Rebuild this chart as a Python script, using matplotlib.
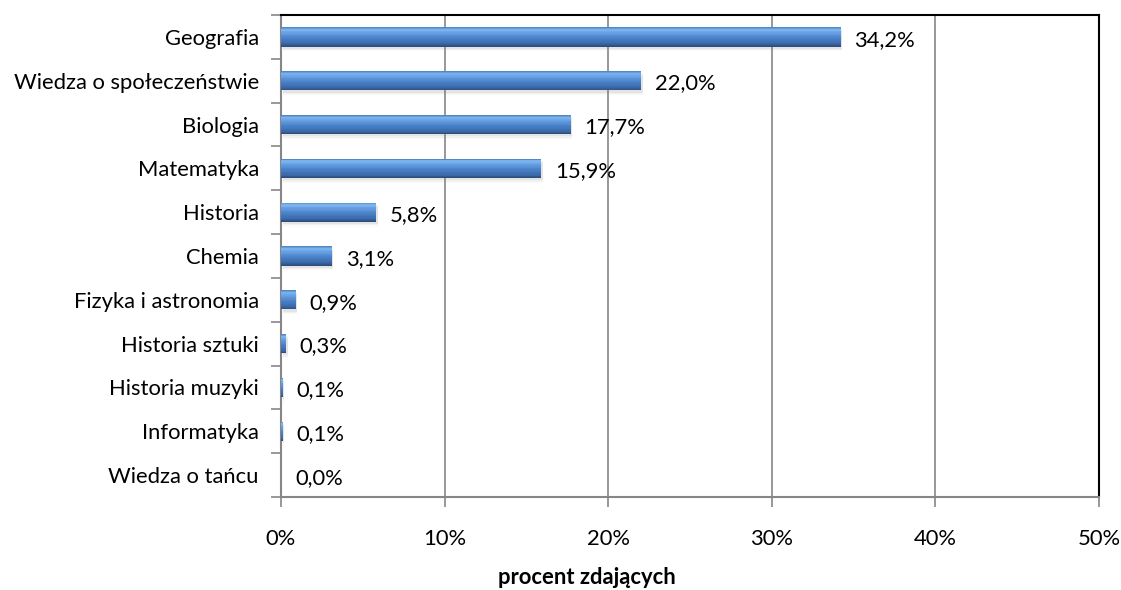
import matplotlib.pyplot as plt
import numpy as np
from matplotlib.ticker import FuncFormatter

subjects = ["Geografia", "Wiedza o społeczeństwie", "Biologia", "Matematyka",
            "Historia", "Chemia", "Fizyka i astronomia", "Historia sztuki",
            "Historia muzyki", "Informatyka", "Wiedza o tańcu"]
values = [34.2, 22.0, 17.7, 15.9, 5.8, 3.1, 0.9, 0.3, 0.1, 0.1, 0.0]
xticks = [0, 10, 20, 30, 40, 50]

plt.rcParams["font.family"] = ["Lato", "DejaVu Sans"]
FS = 15.8

fig = plt.figure(figsize=(11.21, 5.9), dpi=100)
ax = fig.add_axes([281 / 1121, 93 / 590, 818 / 1121, 482 / 590])

n = len(subjects)
ys = np.arange(n)[::-1]  # first category at top
h = 0.44

# soft shadow
for k, a in enumerate([0.10, 0.07, 0.04]):
    ax.barh(ys - 0.05 - 0.03 * k, values, height=h, left=0.1, color="#808080",
            alpha=a, lw=0, zorder=2)

# vertical gradient: dark bottom -> mid -> light highlight near top
stops = np.array([0.0, 0.15, 0.45, 0.75, 0.88, 1.0])
cols = np.array([[0x2a, 0x4a, 0x75], [0x3b, 0x68, 0xa8], [0x4a, 0x82, 0xca],
                 [0x6a, 0xa4, 0xe6], [0x80, 0xb8, 0xf0], [0x4a, 0x7d, 0xbd]]) / 255
nb = 24
for i in range(nb):
    t = (i + 0.5) / nb
    c = [np.interp(t, stops, cols[:, j]) for j in range(3)]
    ax.barh(ys - h / 2 + (i + 0.5) * h / nb, values, height=h / nb * 1.05,
            color=c, lw=0, zorder=3)

for y, v in zip(ys, values):
    ax.annotate(f"{v:.1f}%".replace(".", ","), (v, y), xytext=(10, -2),
                textcoords="offset points", va="center", ha="left",
                fontsize=FS, color="black")

ax.set_xlim(0, 50)
ax.set_ylim(-0.5, n - 0.5)
ax.set_xticks(xticks)
ax.xaxis.set_major_formatter(FuncFormatter(lambda x, p: f"{x:.0f}%"))
ax.set_yticks(ys)
ax.set_yticklabels(subjects)
ax.set_yticks(np.arange(-0.5, n, 1.0), minor=True)
ax.tick_params(axis="y", which="major", length=0, pad=16, labelsize=FS)
ax.tick_params(axis="y", which="minor", length=7, color="#868686", width=1.2)
ax.tick_params(axis="x", length=7, color="#868686", width=1.2, pad=16,
               labelsize=FS)

ax.grid(True, axis="x", color="#868686", lw=1.2, zorder=0)
ax.set_axisbelow(True)
for s in ["left", "bottom"]:
    ax.spines[s].set_color("#868686")
    ax.spines[s].set_linewidth(1.5)
for s in ["top", "right"]:
    ax.spines[s].set_color("black")
    ax.spines[s].set_linewidth(1.5)

fig.text(587 / 1121, 1 - 578 / 590, "procent zdających", ha="center",
         va="center", fontsize=FS, fontweight="bold")

fig.savefig("out.png", dpi=100, facecolor="white")
